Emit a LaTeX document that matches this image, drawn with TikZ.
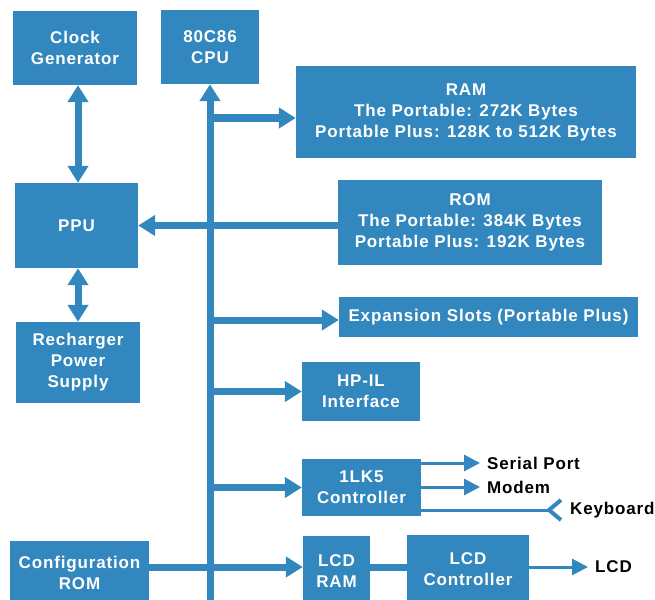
\documentclass[tikz,border=0pt]{standalone}
\usepackage{fontspec}
\setmainfont{Liberation Sans}
\newfontfamily\hpfont[LetterSpace=5]{Liberation Sans}
\usepackage{tikz}
\usetikzlibrary{arrows.meta}
\definecolor{hpblue}{RGB}{50,135,190}

\begin{document}
\begin{tikzpicture}[x=1pt,y=-1pt,
	blk/.style={fill=hpblue,text=white,font=\hpfont\bfseries\fontsize{17}{21}\selectfont,align=center,inner sep=0pt},
	lbl/.style={font=\hpfont\bfseries\fontsize{17}{21}\selectfont,inner xsep=7pt,inner ysep=0pt,anchor=west},
	bus/.style={hpblue,line width=7pt},
	busarr/.style={bus,-{Triangle[length=17pt,width=20pt]}},
	dbl/.style={bus,{Triangle[length=17pt,width=20pt]}-{Triangle[length=17pt,width=20pt]}},
	wire/.style={hpblue,line width=3pt,-{Triangle[length=16pt,width=16pt]}}]
			\useasboundingbox (0,0) rectangle (655,599);
			\node[blk,minimum width=124pt,minimum height=74pt] (clk) at (75,48) {Clock\\Generator};
			\node[blk,minimum width=98pt,minimum height=74pt] (cpu) at (210,47) {80C86\\CPU};
			\node[blk,minimum width=340pt,minimum height=92pt] (ram) at (466,112) {RAM\\The Portable: 272K Bytes\\Portable Plus: 128K to 512K Bytes};
			\node[blk,minimum width=264pt,minimum height=85pt] (rom) at (470,222.5) {ROM\\The Portable: 384K Bytes\\Portable Plus: 192K Bytes};
			\node[blk,minimum width=123pt,minimum height=85pt] (ppu) at (76.5,225.5) {PPU};
			\node[blk,minimum width=124pt,minimum height=81pt] (rch) at (78,362.5) {Recharger\\Power\\Supply};
			\node[blk,minimum width=299pt,minimum height=40pt] (exp) at (488.5,317) {Expansion Slots (Portable Plus)};
			\node[blk,minimum width=118pt,minimum height=59pt] (hpil) at (361,391.5) {HP-IL\\Interface};
			\node[blk,minimum width=119pt,minimum height=57pt] (lk5) at (361.5,487.5) {1LK5\\Controller};
			\node[blk,minimum width=67pt,minimum height=70pt] (lram) at (336.5,571) {LCD\\RAM};
			\node[blk,minimum width=122pt,minimum height=68pt] (lctl) at (468,569) {LCD\\Controller};
			\node[blk,minimum width=139pt,minimum height=63pt] (cfg) at (79.5,572.5) {Configuration\\ROM};
			\node[lbl] (ser) at (480,463) {Serial Port};
			\node[lbl] (mdm) at (480,487) {Modem};
			\node[lbl] (kbd) at (563,510) {Keyboard};
			\node[lbl] (lcd) at (588,567) {LCD};
			\coordinate (busend) at (210,602);
			\coordinate (ramin) at ([yshift=-6pt]ram.west);
			\coordinate (expin) at ([yshift=-3pt]exp.west);
			\coordinate (lramin) at ([yshift=4pt]lram.west);
			\draw[bus,{Triangle[length=17pt,width=20pt]}-] (cpu.south) -- (busend);
			\draw[busarr] (cpu.south |- ramin) -- (ramin);
			\draw[busarr] (rom.west |- ppu.east) -- (ppu.east);
			\draw[busarr] (cpu.south |- expin) -- (expin);
			\draw[busarr] (cpu.south |- hpil.west) -- (hpil.west);
			\draw[busarr] (cpu.south |- lk5.west) -- (lk5.west);
			\draw[busarr] (cfg.east |- lramin) -- (lramin);
			\draw[bus] (lramin -| lram.east) -- (lramin -| lctl.west);
			\draw[dbl] (clk.south -| rch.north) -- (ppu.north -| rch.north);
			\draw[dbl] (ppu.south -| rch.north) -- (rch.north);
			\draw[wire] (ser.west -| lk5.east) -- (ser.west);
			\draw[wire] (mdm.west -| lk5.east) -- (mdm.west);
			\draw[wire] (lcd.west -| lctl.east) -- (lcd.west);
			\draw[hpblue,line width=3pt,-{Straight Barb[reversed,length=12pt,width=20pt,line width=4pt]}] (kbd.west -| lk5.east) -- (kbd.west);
		\end{tikzpicture}
\end{document}
